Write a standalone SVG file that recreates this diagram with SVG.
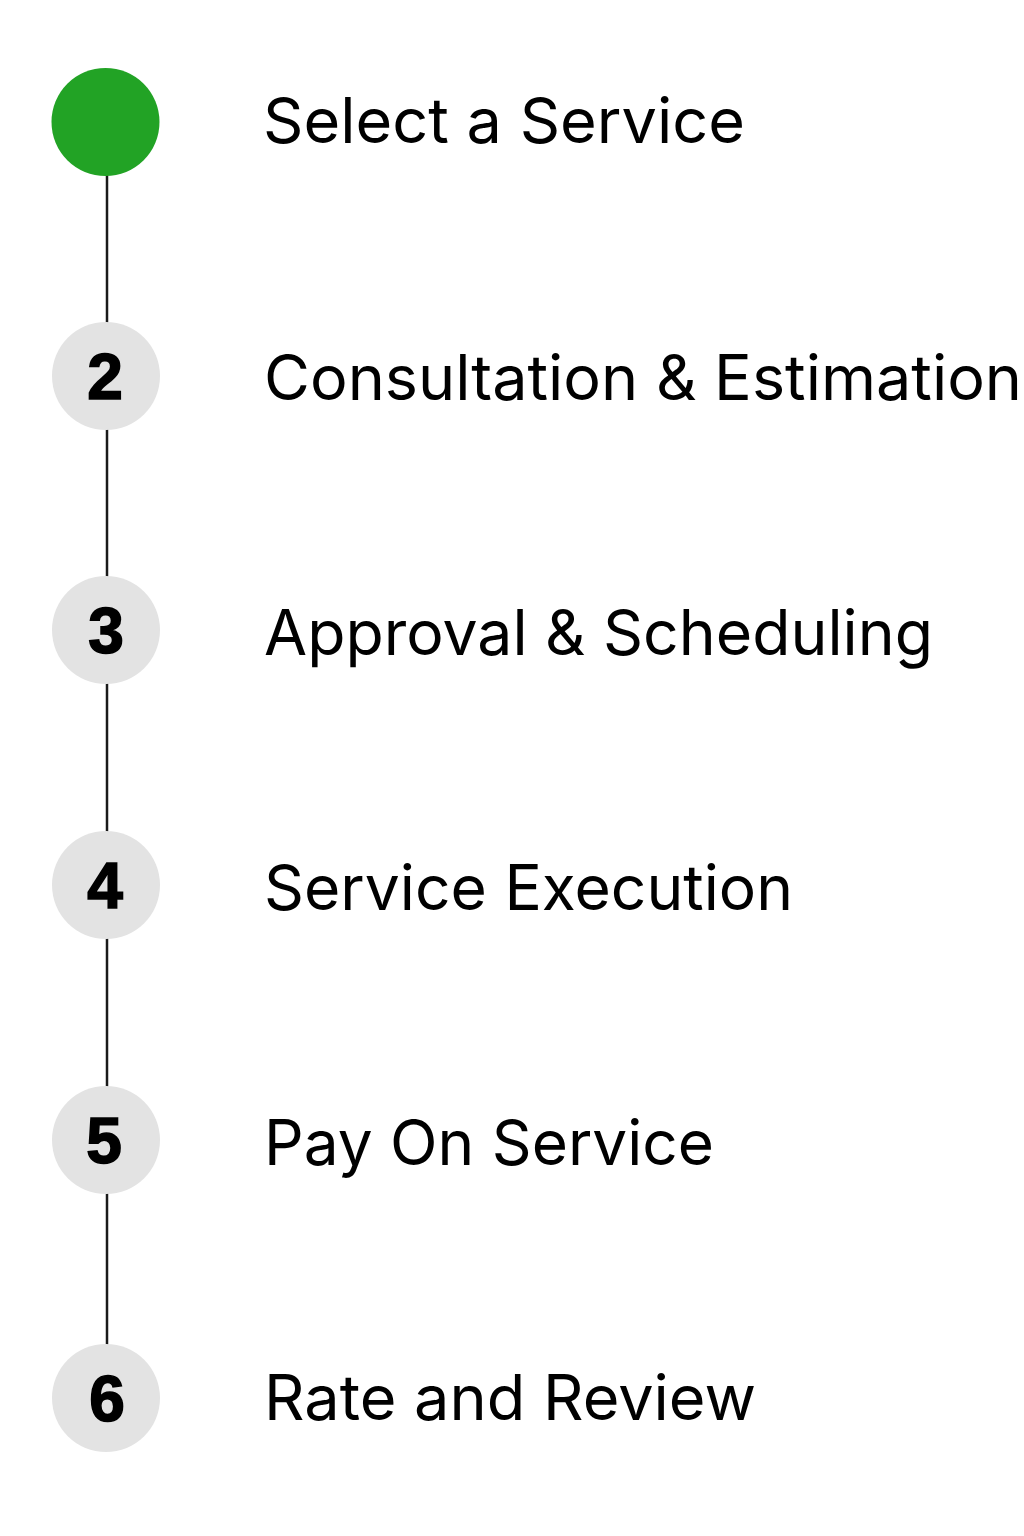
<svg xmlns="http://www.w3.org/2000/svg" width="1024" height="1536" viewBox="0 0 1024 1536">
<style>
.conn{stroke:#1a1a1a;stroke-width:2.5;fill:none}
.step{fill:#e3e3e3}
.num{font-family:"Liberation Sans",Arial,sans-serif;font-weight:bold;font-size:64px;fill:#000;stroke:#000;stroke-width:1.6;text-anchor:middle}
.label{font-family:Inter,"Noto Sans",sans-serif;font-size:63px;fill:#000}
</style>
<rect width="1024" height="1536" fill="#fff"/>
<g id="connectors">
<line class="conn" x1="107" y1="175" x2="107" y2="324"/>
<line class="conn" x1="107" y1="429" x2="107" y2="578"/>
<line class="conn" x1="107" y1="683" x2="107" y2="832"/>
<line class="conn" x1="107" y1="937" x2="107" y2="1088"/>
<line class="conn" x1="107" y1="1193" x2="107" y2="1346"/>
</g>
<g id="step1">
<circle cx="105.5" cy="122" r="54" fill="#22a325"/>
<text class="label" x="263" y="143" textLength="482" lengthAdjust="spacingAndGlyphs">Select a Service</text>
</g>
<g id="step2">
<circle class="step" cx="106" cy="376" r="54"/>
<text class="num" x="105" y="399">2</text>
<text class="label" x="264" y="400" textLength="758" lengthAdjust="spacingAndGlyphs">Consultation &amp; Estimation</text>
</g>
<g id="step3">
<circle class="step" cx="106" cy="630" r="54"/>
<text class="num" x="106" y="653">3</text>
<text class="label" x="264" y="655" textLength="669" lengthAdjust="spacingAndGlyphs">Approval &amp; Scheduling</text>
</g>
<g id="step4">
<circle class="step" cx="106" cy="885" r="54"/>
<text class="num" x="105" y="908">4</text>
<text class="label" x="264" y="910" textLength="529" lengthAdjust="spacingAndGlyphs">Service Execution</text>
</g>
<g id="step5">
<circle class="step" cx="106" cy="1140" r="54"/>
<text class="num" x="104" y="1163">5</text>
<text class="label" x="264" y="1165" textLength="450" lengthAdjust="spacingAndGlyphs">Pay On Service</text>
</g>
<g id="step6">
<circle class="step" cx="106" cy="1398" r="54"/>
<text class="num" x="107" y="1421">6</text>
<text class="label" x="264" y="1420" textLength="492" lengthAdjust="spacingAndGlyphs">Rate and Review</text>
</g>
</svg>
